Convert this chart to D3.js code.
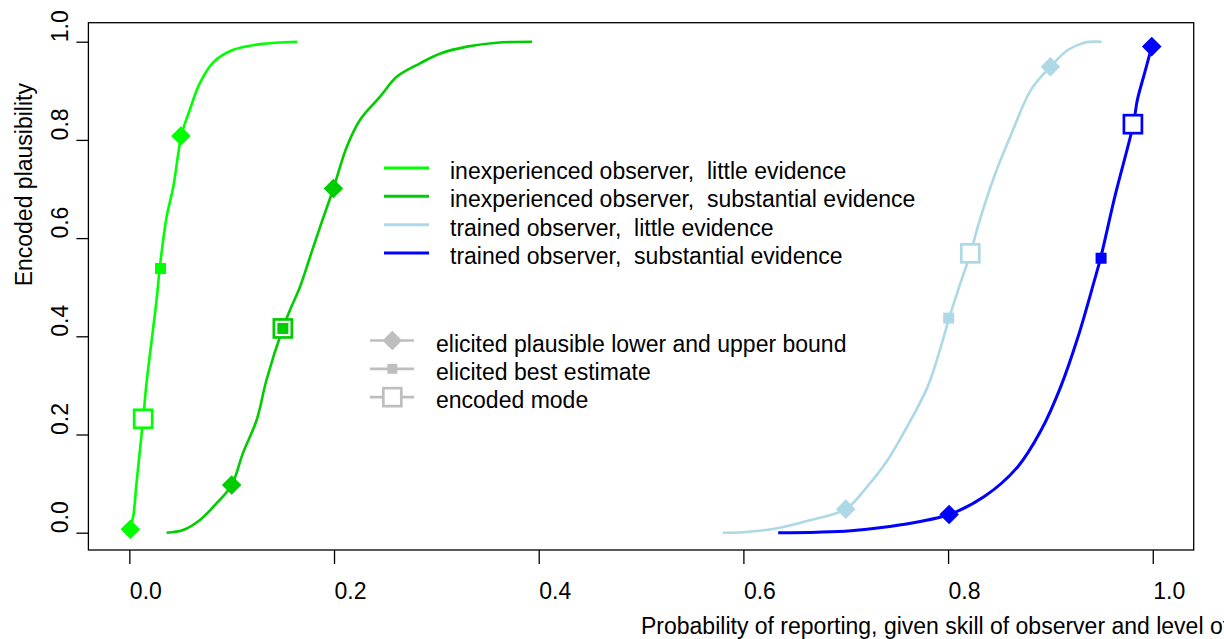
<!DOCTYPE html>
<html><head><meta charset="utf-8">
<script src="https://cdn.jsdelivr.net/npm/d3@7"></script>
<style>body{margin:0;background:#fff}svg{display:block;font-family:"Liberation Sans",Arial,sans-serif}</style>
</head><body><svg id="c" width="1224" height="639"></svg>
<script>
// ---- data ----
const seriesNames = ["inexperienced observer,  little evidence","inexperienced observer,  substantial evidence","trained observer,  little evidence","trained observer,  substantial evidence"];
const seriesColors = ["#00FF00","#00CD00","#ADD8E6","#0000FF"];
const curveInexpLittle = [[0.0005,0.008],[0.0037,0.032],[0.007,0.101],[0.0135,0.232],[0.0168,0.305],[0.0266,0.474],[0.0298,0.541],[0.0364,0.643],[0.0429,0.704],[0.051,0.81],[0.059,0.861],[0.069,0.916],[0.082,0.958],[0.101,0.983],[0.128,0.995],[0.164,1.0]];
const curveInexpSubst = [[0.0364,0.0],[0.0526,0.0055],[0.069,0.026],[0.0853,0.060],[0.100,0.097],[0.111,0.162],[0.1245,0.230],[0.134,0.311],[0.1499,0.416],[0.157,0.4536],[0.1668,0.501],[0.1766,0.562],[0.1864,0.623],[0.1994,0.701],[0.2125,0.786],[0.2255,0.841],[0.245,0.888],[0.2615,0.929],[0.284,0.956],[0.304,0.976],[0.330,0.990],[0.359,0.998],[0.3935,1.0]];
const curveTrainedLittle = [[0.580,0.0],[0.600,0.001],[0.633,0.009],[0.666,0.026],[0.700,0.048],[0.721,0.094],[0.741,0.148],[0.760,0.216],[0.780,0.297],[0.793,0.379],[0.801,0.437],[0.813,0.514],[0.822,0.569],[0.829,0.623],[0.845,0.725],[0.862,0.813],[0.881,0.902],[0.900,0.949],[0.917,0.983],[0.933,0.998],[0.950,1.0]];
const curveTrainedSubst = [[0.634,0.0],[0.672,0.001],[0.705,0.004],[0.754,0.016],[0.801,0.037],[0.835,0.073],[0.868,0.134],[0.891,0.209],[0.910,0.297],[0.927,0.399],[0.943,0.514],[0.949,0.559],[0.963,0.685],[0.981,0.832],[0.985,0.882],[0.992,0.936],[0.999,0.99]];
const curves = [curveInexpLittle, curveInexpSubst, curveTrainedLittle, curveTrainedSubst];
// elicited bounds (diamonds), best estimate (small filled square), encoded mode (open square)
const boundPoints = [[[0.001,0.007],[0.0504,0.808]],[[0.100,0.097],[0.1994,0.701]],[[0.700,0.048],[0.900,0.949]],[[0.801,0.037],[0.999,0.99]]];
const bestPoints = [[0.0305,0.538],[0.150,0.416],[0.8006,0.437],[0.9495,0.559]];
const modePoints = [[0.0135,0.232],[0.150,0.416],[0.8217,0.569],[0.9806,0.832]];
const markerNames = ["elicited plausible lower and upper bound","elicited best estimate","encoded mode"];
const xTicks = [0,0.2,0.4,0.6,0.8,1.0];
const yTicks = [0,0.2,0.4,0.6,0.8,1.0];
const xTitle = "Probability of reporting, given skill of observer and level of evidence";
const yTitle = "Encoded plausibility";

// ---- layout ----
const svg = d3.select("#c");
const L=88.4, R=1193.7, T=22.7, B=550;
const x = d3.scaleLinear().domain([-0.04,1.04]).range([L,R]);
const y = d3.scaleLinear().domain([0,1]).range([532.7,41.7]);
const fs = 23;

// box
svg.append("rect").attr("x",L).attr("y",T).attr("width",R-L).attr("height",B-T)
  .attr("fill","none").attr("stroke","#000").attr("stroke-width",1.3);

// x axis
const xa = svg.append("g").attr("transform",`translate(0,${B})`)
  .call(d3.axisBottom(x).tickValues(xTicks).tickSize(14).tickFormat(d3.format(".1f")));
xa.select(".domain").remove();
xa.selectAll("line").attr("stroke","#000").attr("stroke-width",1.3);
xa.selectAll("text").attr("font-size",fs).attr("fill","#000").attr("text-anchor","start")
  .attr("dy",null).attr("y",49).attr("font-family","Liberation Sans, Arial, sans-serif");

// y axis
const ya = svg.append("g").attr("transform",`translate(${L},0)`)
  .call(d3.axisLeft(y).tickValues(yTicks).tickSize(12).tickFormat(d3.format(".1f")));
ya.select(".domain").remove();
ya.selectAll("line").attr("stroke","#000").attr("stroke-width",1.3);
ya.selectAll("text").attr("font-size",fs).attr("fill","#000").attr("text-anchor","start")
  .attr("dy",null).attr("x",null).attr("transform","translate(-20.4,0) rotate(-90)")
  .attr("font-family","Liberation Sans, Arial, sans-serif");

// titles
svg.append("text").attr("x",641).attr("y",634).attr("font-size",fs).attr("fill","#000").text(xTitle);
svg.append("text").attr("transform",`translate(32,${(T+B)/2}) rotate(-90)`).attr("font-size",fs).attr("fill","#000").text(yTitle);

// curves
const line = d3.line().x(d=>x(d[0])).y(d=>y(d[1])).curve(d3.curveCatmullRom.alpha(0.5));
curves.forEach((c,i)=>{
  svg.append("path").datum(c).attr("d",line).attr("fill","none")
    .attr("stroke",seriesColors[i]).attr("stroke-width",i===3?3:2.6).attr("stroke-linejoin","round");
});

const diamond = (g,cx,cy,r,col)=> g.append("path")
  .attr("d",`M${cx},${cy-r}L${cx+r},${cy}L${cx},${cy+r}L${cx-r},${cy}Z`).attr("fill",col);
const openSq = (g,cx,cy,s,col)=> g.append("rect").attr("x",cx-s/2).attr("y",cy-s/2).attr("width",s).attr("height",s)
  .attr("fill","#fff").attr("stroke",col).attr("stroke-width",2.7);
const fillSq = (g,cx,cy,s,col)=> g.append("rect").attr("x",cx-s/2).attr("y",cy-s/2).attr("width",s).attr("height",s).attr("fill",col);

const mk = svg.append("g");
curves.forEach((c,i)=>{
  boundPoints[i].forEach(p=>diamond(mk,x(p[0]),y(p[1]),9.8,seriesColors[i]));
  openSq(mk,x(modePoints[i][0]),y(modePoints[i][1]),18,seriesColors[i]);
  fillSq(mk,x(bestPoints[i][0]),y(bestPoints[i][1]),11,seriesColors[i]);
});

// legend 1
const lg1y0=168, lstep=28.33;
seriesNames.forEach((n,i)=>{
  const yy=lg1y0+i*lstep;
  svg.append("line").attr("x1",384).attr("x2",429).attr("y1",yy).attr("y2",yy)
    .attr("stroke",seriesColors[i]).attr("stroke-width",3);
  svg.append("text").attr("x",450).attr("y",yy+11).attr("font-size",fs).attr("fill","#000")
    .style("white-space","pre").text(n);
});
// legend 2
const gray="#BEBEBE", lg2y0=340.5;
markerNames.forEach((n,i)=>{
  const yy=lg2y0+i*lstep;
  svg.append("line").attr("x1",370).attr("x2",414).attr("y1",yy).attr("y2",yy)
    .attr("stroke",gray).attr("stroke-width",2.6);
  if(i===0) diamond(svg,392.3,yy,9.8,gray);
  if(i===1) fillSq(svg,392.3,yy,10,gray);
  if(i===2) openSq(svg,392.3,yy,18,gray);
  svg.append("text").attr("x",436).attr("y",yy+11).attr("font-size",fs).attr("fill","#000").text(n);
});
</script></body></html>
